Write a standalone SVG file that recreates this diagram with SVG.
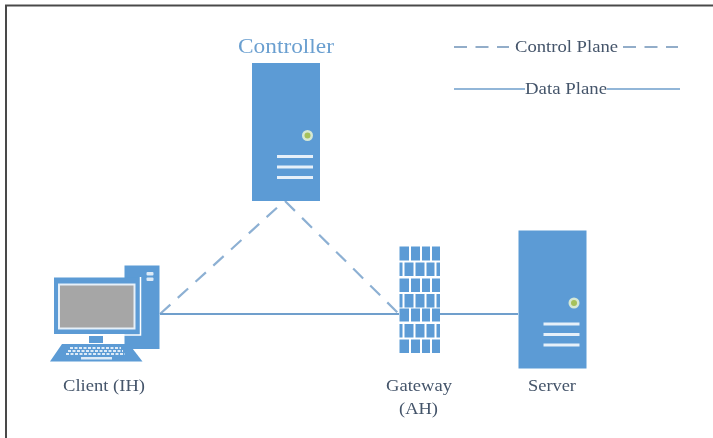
<svg xmlns="http://www.w3.org/2000/svg" xmlns:xlink="http://www.w3.org/1999/xlink" width="713" height="438" viewBox="0 0 713 438">
<style>
text{font-family:"Liberation Serif","Times New Roman",serif;font-size:17px;fill:#44546a;text-anchor:middle}
.b{fill:#5b9bd5}
.w{stroke:#e6f0f9;stroke-width:3;fill:none}
.c{stroke:#6f9fcc;stroke-width:1.8;fill:none}
.d{stroke:#8db0d3;stroke-width:2.200;fill:none;stroke-dasharray:14 10}
.l{stroke:#6f9fcc;stroke-width:1.3;fill:none}
.ld{stroke:#6f93b8;stroke-width:1.3;fill:none;stroke-dasharray:13 8.500}
</style>
<defs>
<filter id="s" x="-5%" y="-5%" width="110%" height="110%"><feGaussianBlur stdDeviation="0.4"/></filter>
<g id="srv">
<rect class="b" width="68" height="138"/>
<circle cx="55.500" cy="72.500" r="5.500" fill="#d5e8d4"/>
<circle cx="55.500" cy="72.500" r="3" fill="#a5c15a"/>
<path class="w" d="M25 93.500H61M25 104H61M25 114.500H61"/>
</g>
</defs>
<rect width="713" height="438" fill="#fff"/>
<g filter="url(#s)">
<path id="frame" d="M6 438V5.500H713" fill="none" stroke="#4a4a4a" stroke-width="2"/>
<g id="connectors">
<path class="d" d="M160 314L280 205"/>
<path class="d" d="M285 201L399 314"/>
<path class="c" d="M160 314H399M440 314H518"/>
</g>
<g id="controller">
<use xlink:href="#srv" x="252" y="63"/>
<text x="286" y="53" textLength="96" lengthAdjust="spacingAndGlyphs" style="font-size:20px;fill:#6a9fd0">Controller</text>
</g>
<g id="server">
<use xlink:href="#srv" x="518.500" y="230.500"/>
<text x="552" y="391" textLength="48" lengthAdjust="spacingAndGlyphs">Server</text>
</g>
<g id="gateway">
<path class="b" d="M399.500 246.500h9.500v14h-9.500zM411 246.500h9v14h-9zM422 246.500h8v14h-8zM432 246.500h8v14h-8z
M399.500 262.500h3v13.500h-3zM404.500 262.500h9v13.500h-9zM415.500 262.500h9v13.500h-9zM426.500 262.500h8v13.500h-8zM436.500 262.500h3.500v13.500h-3.500z
M399.500 278.500h9.500v13.500h-9.500zM411 278.500h9v13.500h-9zM422 278.500h8v13.500h-8zM432 278.500h8v13.500h-8z
M399.500 294h3v13.500h-3zM404.500 294h9v13.500h-9zM415.500 294h9v13.500h-9zM426.500 294h8v13.500h-8zM436.500 294h3.500v13.500h-3.500z
M399.500 308.500h9.500v13h-9.500zM411 308.500h9v13h-9zM422 308.500h8v13h-8zM432 308.500h8v13h-8z
M399.500 324h3v13.500h-3zM404.500 324h9v13.500h-9zM415.500 324h9v13.500h-9zM426.500 324h8v13.500h-8zM436.500 324h3.500v13.500h-3.500z
M399.500 339.500h9.500v13.500h-9.500zM411 339.500h9v13.500h-9zM422 339.500h8v13.500h-8zM432 339.500h8v13.500h-8z"/>
<text x="419" y="391" textLength="66" lengthAdjust="spacingAndGlyphs">Gateway</text>
<text x="418.500" y="414" textLength="39" lengthAdjust="spacingAndGlyphs">(AH)</text>
</g>
<g id="client">
<rect class="b" x="124.500" y="265.500" width="35" height="83.500"/>
<rect x="146.500" y="272" width="7" height="3.500" rx="1" fill="#deebf7"/>
<rect x="146.500" y="277.500" width="7" height="3.500" rx="1" fill="#deebf7"/>
<rect class="b" x="54" y="277.500" width="86" height="56.500"/>
<path d="M140.500 277v58H124" fill="none" stroke="#fff" stroke-width="1.500"/>
<rect x="59" y="284.500" width="75.500" height="44" fill="#a6a6a6" stroke="#e6f0f9" stroke-width="2"/>
<rect class="b" x="89" y="336" width="14" height="7"/>
<path class="b" d="M62 344H129L142.500 361.500H50Z"/>
<path d="M70 348H121M68 351H123M66 354H125" stroke="#deebf7" stroke-width="2" stroke-dasharray="3 1.500" fill="none"/>
<rect x="81" y="357" width="31" height="2.500" fill="#deebf7"/>
<text x="104" y="391" textLength="82" lengthAdjust="spacingAndGlyphs">Client (IH)</text>
</g>
<g id="legend">
<path class="ld" d="M454 47H509M623 47H678"/>
<text x="566.500" y="52" textLength="103" lengthAdjust="spacingAndGlyphs">Control Plane</text>
<path class="l" d="M454 89H525M607 89H680"/>
<text x="566" y="94" textLength="82" lengthAdjust="spacingAndGlyphs">Data Plane</text>
</g>
</g>
</svg>
